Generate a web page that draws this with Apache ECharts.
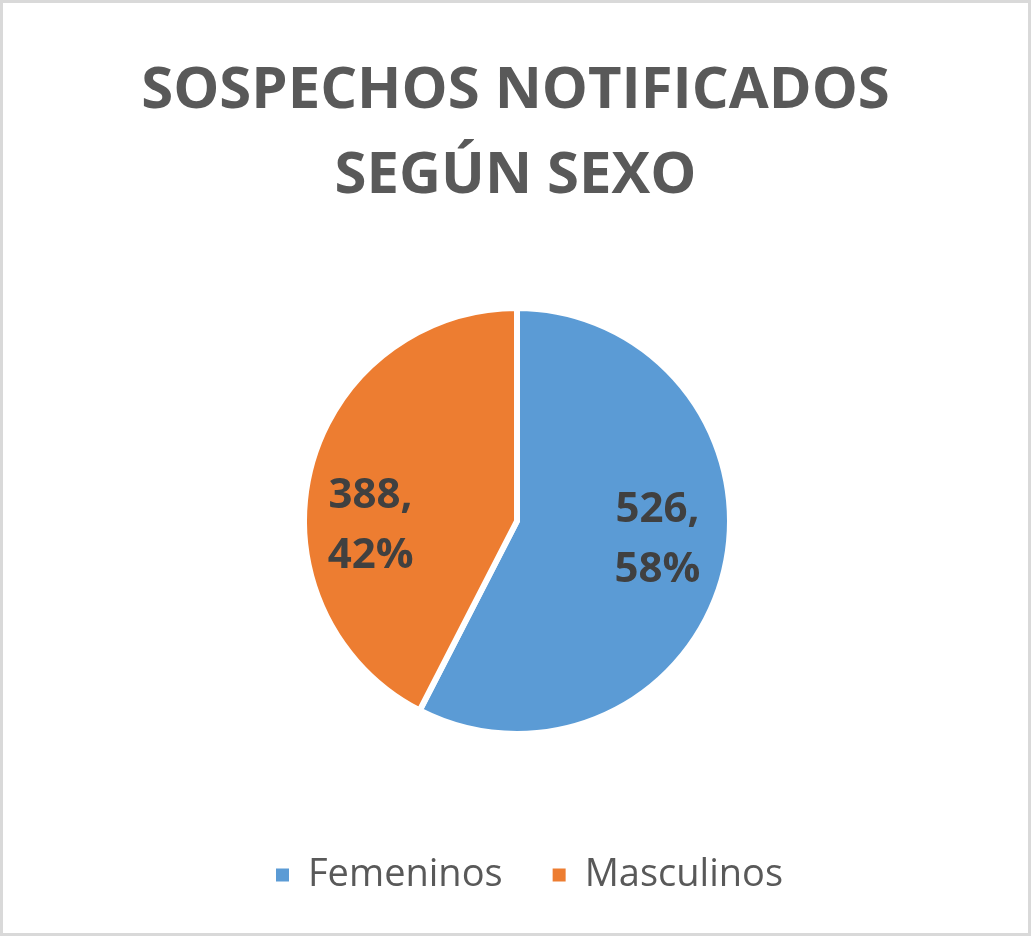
<!DOCTYPE html>
<html>
<head>
<meta charset="utf-8">
<title>Sospechos notificados según sexo</title>
<script src="https://cdn.jsdelivr.net/npm/echarts@6/dist/echarts.min.js"></script>
<style>
  html, body { margin: 0; padding: 0; background: #fff; }
  #main { width: 1031px; height: 936px; }
</style>
</head>
<body>
<div id="main"></div>
<script>
// datos
const categorias = ['Femeninos', 'Masculinos'];
const valores = [526, 388];
const colores = ['#5B9BD5', '#ED7D31'];
// desplazamiento de cada etiqueta (como en el original)
const offsets = [[34, -7], [-40, 31]];

let chartDom = document.getElementById('main');
let myChart = echarts.init(chartDom);

let datos = categorias.map((nombre, i) => ({
  name: nombre,
  value: valores[i],
  itemStyle: { color: colores[i] },
  label: { offset: offsets[i] }
}));

let option = {
  animation: false,
  backgroundColor: '#fff',
  title: {
    text: 'SOSPECHOS NOTIFICADOS\nSEGÚN SEXO',
    left: 'center',
    top: 44,
    textStyle: {
      fontFamily: 'Open Sans',
      fontWeight: 'bold',
      fontSize: 58,
      lineHeight: 85,
      color: '#595959'
    }
  },
  legend: {
    data: categorias,
    left: 269,
    top: 847,
    icon: 'rect',
    itemWidth: 15,
    itemHeight: 15,
    itemGap: 48,
    textStyle: {
      fontFamily: 'Open Sans',
      fontSize: 38,
      lineHeight: 46,
      color: '#595959',
      padding: [0, 0, 0, 13]
    }
  },
  graphic: [
    {
      type: 'rect',
      silent: true,
      shape: { x: 1.5, y: 1.5, width: 1028, height: 933 },
      style: { fill: null, stroke: '#D9D9D9', lineWidth: 3 }
    }
  ],
  series: [
    {
      type: 'pie',
      center: [517, 521],
      radius: 213,
      startAngle: 90,
      clockwise: true,
      percentPrecision: 0,
      itemStyle: { borderColor: '#fff', borderWidth: 6 },
      label: {
        show: true,
        position: 'inside',
        formatter: '{c},\n{d}%',
        fontFamily: 'Open Sans',
        fontWeight: 'bold',
        fontSize: 42,
        lineHeight: 60,
        color: '#404040',
        align: 'left'
      },
      labelLine: { show: false },
      emphasis: { disabled: true },
      data: datos
    }
  ]
};

myChart.setOption(option);
</script>
</body>
</html>
